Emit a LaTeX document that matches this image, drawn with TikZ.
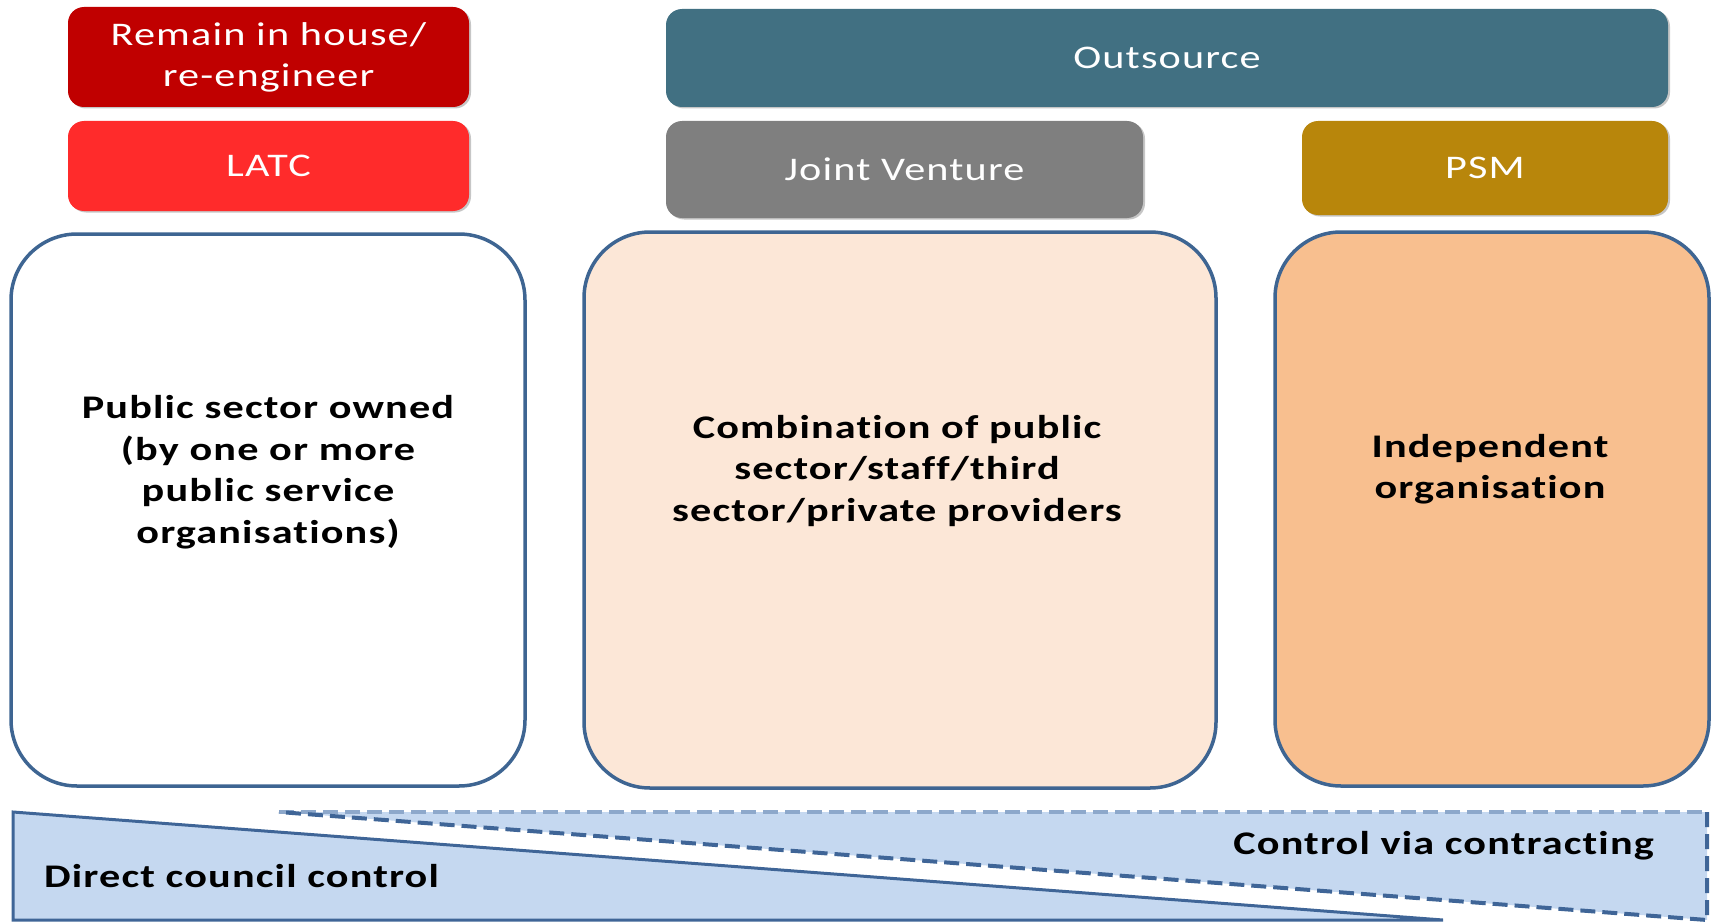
\documentclass[tikz,border=0pt]{standalone}
\usepackage{fontspec}
\setmainfont{Carlito}[FakeStretch=1.28, LetterSpace=3.5, Ligatures=CommonOff]
\usetikzlibrary{shadows}
\definecolor{remainred}{HTML}{C00000}
\definecolor{latcred}{HTML}{FF2B2B}
\definecolor{outteal}{HTML}{417082}
\definecolor{jvgrey}{HTML}{7F7F7F}
\definecolor{psmgold}{HTML}{B8860B}
\definecolor{peachlight}{HTML}{FCE7D7}
\definecolor{peachdark}{HTML}{F8BF8F}
\definecolor{boxline}{HTML}{3E6592}
\definecolor{lightblue}{HTML}{C5D8F0}
\definecolor{lineblue}{HTML}{3F6597}
\definecolor{paleline}{HTML}{8DA8CB}
\begin{document}
\begin{tikzpicture}[x=1pt,y=-1pt,
  topbox/.style={rounded corners=16pt, text=white, align=center,
    font=\fontsize{33}{41}\selectfont, inner sep=0pt,
    drop shadow={shadow xshift=2pt, shadow yshift=-1.5pt, opacity=0.45}},
  bigbox/.style={rounded corners=66pt, draw=boxline, line width=3.5pt, inner sep=0pt},
  boldtext/.style={font=\fontsize{33}{41.5}\selectfont\bfseries, align=center, inner sep=0pt},
  dashline/.style={line width=4pt, dash pattern=on 15pt off 7pt}
]
\useasboundingbox (0,0) rectangle (1714,923);

% top labels
\node[topbox, fill=remainred, minimum width=401pt, minimum height=100pt] (remain) at (268.5,57) {Remain in house/\\re-engineer};
\node[topbox, fill=latcred, minimum width=401pt, minimum height=90pt] (latc) at (268.5,166) {LATC};
\node[topbox, fill=outteal, minimum width=1002pt, minimum height=98pt] (outsource) at (1167,58) {Outsource};
\node[topbox, fill=jvgrey, minimum width=477pt, minimum height=97pt] (jv) at (904.5,169.5) {Joint Venture};
\node[topbox, fill=psmgold, minimum width=366pt, minimum height=94pt] (psm) at (1485,168) {PSM};

% big boxes
\node[bigbox, fill=white, minimum width=514pt, minimum height=552pt] (pub) at (268,510) {};
\node[bigbox, fill=peachlight, minimum width=632pt, minimum height=556pt] (comb) at (900,510) {};
\node[bigbox, fill=peachdark, minimum width=434pt, minimum height=554pt] (indep) at (1492,509) {};

\node[boldtext] (pubtext) at (268,472) {Public sector owned\\(by one or more\\public service\\organisations)};
\node[boldtext] (combtext) at (897,471) {Combination of public\\sector/staff/third\\sector/private providers};
\node[boldtext] (indeptext) at (1490,469) {Independent\\organisation};

% bottom wedges
\coordinate (a1) at (13,812);
\coordinate (a2) at (1443,920);
\coordinate (a3) at (13,920);
\draw[fill=lightblue, draw=lineblue, line width=3pt, line join=miter] (a1) -- (a2) -- (a3) -- cycle;
\coordinate (b1) at (279,812);
\coordinate (b2) at (1707,812);
\coordinate (b3) at (1707,920);
\fill[lightblue] (b1) -- (b2) -- (b3) -- cycle;
\draw[dashline, draw=paleline, line width=3.5pt] (b1) -- (b2);
\draw[dashline, draw=lineblue] (b2) -- (b3) -- (b1);

\node[boldtext, anchor=west] (direct) at (44,876) {Direct council control};
\node[boldtext, anchor=east] (contract) at (1654,846) {Control via contracting};
\end{tikzpicture}
\end{document}
